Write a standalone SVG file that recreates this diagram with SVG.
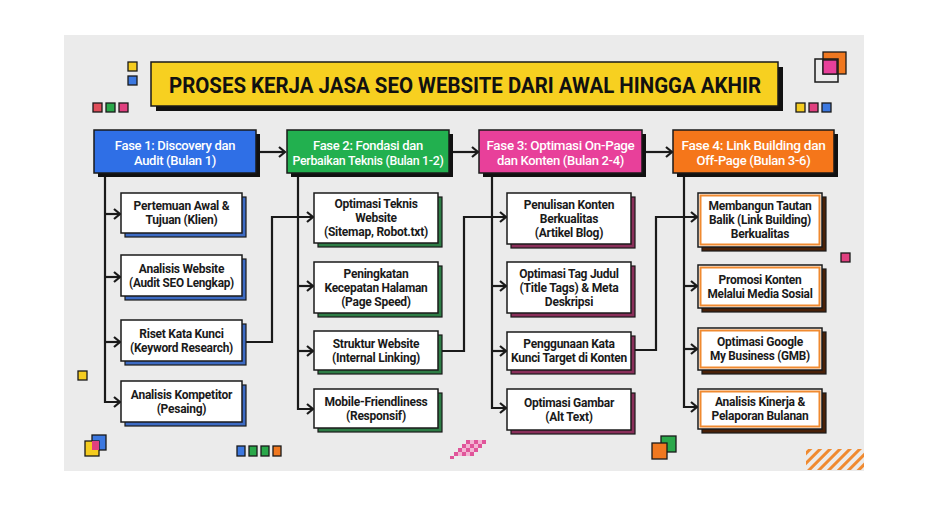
<svg xmlns="http://www.w3.org/2000/svg" width="928" height="506" viewBox="0 0 928 506">
<style>
.bt{font-family:Roboto,"Liberation Sans",sans-serif;font-weight:700;font-size:12px;fill:#1a1a1a;text-anchor:middle;letter-spacing:-0.25px}
.ht{font-family:Roboto,"Liberation Sans",sans-serif;font-weight:500;font-size:13px;fill:#fff;text-anchor:middle;letter-spacing:-0.3px}
.box{fill:#fff;stroke:#1a1a1a;stroke-width:1.5}
.hdr{stroke:#1a1a1a;stroke-width:1.5}
.con{fill:none;stroke:#1a1a1a;stroke-width:2.2}
.sq{stroke:#1a1a1a;stroke-width:1.3}
</style>
<defs>
<marker id="ar" markerWidth="10" markerHeight="12" refX="8" refY="6" orient="auto" markerUnits="userSpaceOnUse">
<path d="M2,1 L8,6 L2,11" fill="none" stroke="#1a1a1a" stroke-width="2.2"/>
</marker>
<pattern id="hatch" width="7" height="7" patternUnits="userSpaceOnUse" patternTransform="rotate(45)">
<rect width="7" height="7" fill="#ebebeb"/>
<rect width="3" height="7" fill="#f08a30"/>
</pattern>
</defs>
<rect width="928" height="506" fill="#fff"/>
<rect x="64" y="35" width="800" height="436" fill="#ebebeb"/>

<!-- decorations -->
<g id="decor">
<rect class="sq" x="128" y="62" width="9" height="9" fill="#f5cc1f"/>
<rect class="sq" x="128" y="76" width="9" height="9" fill="#3c78e0"/>
<rect class="sq" x="93" y="103" width="9" height="9" fill="#e04e5a"/>
<rect class="sq" x="106" y="103" width="9" height="9" fill="#2aa84a"/>
<rect class="sq" x="119" y="103" width="9" height="9" fill="#e0407f"/>
<rect class="sq" x="823" y="52" width="23" height="22" fill="#f07820"/>
<rect class="sq" x="823" y="60" width="14" height="14" fill="#e8409a"/>
<rect x="815" y="59" width="23" height="23" fill="none" stroke="#1a1a1a" stroke-width="1.5"/>
<rect class="sq" x="796" y="103" width="9" height="9" fill="#f5cc1f"/>
<rect class="sq" x="809" y="103" width="9" height="9" fill="#e0407f"/>
<rect class="sq" x="822" y="103" width="9" height="9" fill="#3c78e0"/>
<rect class="sq" x="841" y="253" width="9" height="9" fill="#e0407f"/>
<rect class="sq" x="78" y="371" width="9" height="9" fill="#f5cc1f"/>
<rect class="sq" x="92" y="435" width="14" height="15" fill="#3c78e0"/>
<rect class="sq" x="85" y="441" width="14" height="15" fill="#f5cc1f"/>
<rect x="92" y="441" width="7" height="9" fill="#e0407f"/>
<rect class="sq" x="237" y="446" width="8" height="10" fill="#3c78e0"/>
<rect class="sq" x="249" y="446" width="8" height="10" fill="#2aa84a"/>
<rect class="sq" x="261" y="446" width="8" height="10" fill="#2aa84a"/>
<rect class="sq" x="273" y="446" width="8" height="10" fill="#f07820"/>
<g fill="#e0559a">
<rect x="466" y="440" width="4" height="4"/><rect x="474" y="440" width="4" height="4"/><rect x="482" y="440" width="4" height="4"/>
<rect x="462" y="444" width="4" height="4"/><rect x="470" y="444" width="4" height="4"/><rect x="478" y="444" width="4" height="4"/>
<rect x="458" y="448" width="4" height="4"/><rect x="466" y="448" width="4" height="4"/><rect x="474" y="448" width="4" height="4"/>
<rect x="454" y="452" width="4" height="4"/><rect x="462" y="452" width="4" height="4"/><rect x="470" y="452" width="4" height="4"/>
<rect x="450" y="456" width="4" height="3"/>
</g>
<g fill="#f3b5d3">
<rect x="470" y="440" width="4" height="4"/><rect x="478" y="440" width="4" height="4"/>
<rect x="466" y="444" width="4" height="4"/><rect x="474" y="444" width="4" height="4"/>
<rect x="462" y="448" width="4" height="4"/><rect x="470" y="448" width="4" height="4"/>
<rect x="458" y="452" width="4" height="4"/><rect x="466" y="452" width="4" height="4"/>
</g>
<rect class="sq" x="661" y="436" width="15" height="16" fill="#2aa84a"/>
<rect class="sq" x="652" y="443" width="15" height="16" fill="#f07820"/>
<polygon points="806,470 806,449 864,449 864,470" fill="url(#hatch)"/>
</g>

<!-- title -->
<g id="title">
<rect x="156" y="67" width="627" height="44" fill="#111"/>
<rect x="151" y="62" width="627" height="44" fill="#f7d020" stroke="#1a1a1a" stroke-width="1.5"/>
<text x="465" y="92.5" font-family="Roboto,'Liberation Sans',sans-serif" font-weight="700" font-size="22" fill="#111" text-anchor="middle" textLength="592" lengthAdjust="spacingAndGlyphs">PROSES KERJA JASA SEO WEBSITE DARI AWAL HINGGA AKHIR</text>
</g>

<!-- connectors -->
<g id="connectors">
<path class="con" d="M258,152 H285" marker-end="url(#ar)"/>
<path class="con" d="M451,152 H478" marker-end="url(#ar)"/>
<path class="con" d="M645,152 H672" marker-end="url(#ar)"/>

<path class="con" d="M105,174 V402 H120" marker-end="url(#ar)"/>
<path class="con" d="M105,214 H120" marker-end="url(#ar)"/>
<path class="con" d="M105,277 H120" marker-end="url(#ar)"/>
<path class="con" d="M105,342 H120" marker-end="url(#ar)"/>
<path class="con" d="M242,342 H272 V217 H313" marker-end="url(#ar)"/>

<path class="con" d="M298,174 V409 H313" marker-end="url(#ar)"/>
<path class="con" d="M298,286 H313" marker-end="url(#ar)"/>
<path class="con" d="M298,351 H313" marker-end="url(#ar)"/>
<path class="con" d="M438,351 H464 V217 H506" marker-end="url(#ar)"/>

<path class="con" d="M492,174 V408 H506" marker-end="url(#ar)"/>
<path class="con" d="M492,286 H506" marker-end="url(#ar)"/>
<path class="con" d="M492,351 H506" marker-end="url(#ar)"/>
<path class="con" d="M631,350 H656 V217 H697" marker-end="url(#ar)"/>

<path class="con" d="M684,174 V407 H697" marker-end="url(#ar)"/>
<path class="con" d="M684,286 H697" marker-end="url(#ar)"/>
<path class="con" d="M684,349 H697" marker-end="url(#ar)"/>
</g>

<!-- phase headers -->
<g id="fase1">
<rect x="98" y="134" width="162" height="43" fill="#111"/>
<rect class="hdr" x="94" y="130" width="162" height="43" fill="#2f6fe6"/>
<text class="ht" x="175" y="149.5">Fase 1: Discovery dan</text>
<text class="ht" x="175" y="165">Audit (Bulan 1)</text>
</g>
<g id="fase2">
<rect x="291" y="134" width="162" height="43" fill="#111"/>
<rect class="hdr" x="287" y="130" width="162" height="43" fill="#22b04f"/>
<text class="ht" x="368" y="149.5">Fase 2: Fondasi dan</text>
<text class="ht" x="368" y="165" textLength="151" lengthAdjust="spacingAndGlyphs">Perbaikan Teknis (Bulan 1-2)</text>
</g>
<g id="fase3">
<rect x="483" y="134" width="163" height="43" fill="#111"/>
<rect class="hdr" x="479" y="130" width="163" height="43" fill="#e8409a"/>
<text class="ht" x="560.5" y="149.5" textLength="148" lengthAdjust="spacingAndGlyphs">Fase 3: Optimasi On-Page</text>
<text class="ht" x="560.5" y="165">dan Konten (Bulan 2-4)</text>
</g>
<g id="fase4">
<rect x="677" y="134" width="161" height="43" fill="#111"/>
<rect class="hdr" x="673" y="130" width="161" height="43" fill="#f5761a"/>
<text class="ht" x="753.5" y="149.5" textLength="144" lengthAdjust="spacingAndGlyphs">Fase 4: Link Building dan</text>
<text class="ht" x="753.5" y="165">Off-Page (Bulan 3-6)</text>
</g>

<!-- column 1 -->
<g id="c1b1"><rect x="125" y="197" width="121" height="40" fill="#3d6bc4" stroke="#1a1a1a" stroke-width="1.2"/><rect class="box" x="121" y="193" width="121" height="40"/>
<text class="bt" x="181.5" y="210">Pertemuan Awal &amp;</text><text class="bt" x="181.5" y="224">Tujuan (Klien)</text></g>
<g id="c1b2"><rect x="125" y="259" width="121" height="41" fill="#3d6bc4" stroke="#1a1a1a" stroke-width="1.2"/><rect class="box" x="121" y="255" width="121" height="41"/>
<text class="bt" x="181.5" y="272.5">Analisis Website</text><text class="bt" x="181.5" y="286.5" textLength="105" lengthAdjust="spacingAndGlyphs">(Audit SEO Lengkap)</text></g>
<g id="c1b3"><rect x="125" y="324" width="121" height="41" fill="#3d6bc4" stroke="#1a1a1a" stroke-width="1.2"/><rect class="box" x="121" y="320" width="121" height="41"/>
<text class="bt" x="181.5" y="337.5">Riset Kata Kunci</text><text class="bt" x="181.5" y="351.5" textLength="103" lengthAdjust="spacingAndGlyphs">(Keyword Research)</text></g>
<g id="c1b4"><rect x="125" y="385" width="121" height="41" fill="#3d6bc4" stroke="#1a1a1a" stroke-width="1.2"/><rect class="box" x="121" y="381" width="121" height="41"/>
<text class="bt" x="181.5" y="398.5">Analisis Kompetitor</text><text class="bt" x="181.5" y="412.5">(Pesaing)</text></g>

<!-- column 2 -->
<g id="c2b1"><rect x="318" y="197" width="124" height="50" fill="#2e7d46" stroke="#1a1a1a" stroke-width="1.2"/><rect class="box" x="314" y="193" width="124" height="50"/>
<text class="bt" x="376" y="208">Optimasi Teknis</text><text class="bt" x="376" y="222">Website</text><text class="bt" x="376" y="236" textLength="104" lengthAdjust="spacingAndGlyphs">(Sitemap, Robot.txt)</text></g>
<g id="c2b2"><rect x="318" y="266" width="124" height="51" fill="#2e7d46" stroke="#1a1a1a" stroke-width="1.2"/><rect class="box" x="314" y="262" width="124" height="51"/>
<text class="bt" x="376" y="277.5">Peningkatan</text><text class="bt" x="376" y="291.5" textLength="103" lengthAdjust="spacingAndGlyphs">Kecepatan Halaman</text><text class="bt" x="376" y="305.5">(Page Speed)</text></g>
<g id="c2b3"><rect x="318" y="335" width="124" height="39" fill="#2e7d46" stroke="#1a1a1a" stroke-width="1.2"/><rect class="box" x="314" y="331" width="124" height="39"/>
<text class="bt" x="376" y="347.5">Struktur Website</text><text class="bt" x="376" y="361.5">(Internal Linking)</text></g>
<g id="c2b4"><rect x="318" y="393" width="124" height="39" fill="#2e7d46" stroke="#1a1a1a" stroke-width="1.2"/><rect class="box" x="314" y="389" width="124" height="39"/>
<text class="bt" x="376" y="405.5" textLength="103" lengthAdjust="spacingAndGlyphs">Mobile-Friendliness</text><text class="bt" x="376" y="419.5">(Responsif)</text></g>

<!-- column 3 -->
<g id="c3b1"><rect x="511" y="197" width="124" height="51" fill="#8a2f5a" stroke="#1a1a1a" stroke-width="1.2"/><rect class="box" x="507" y="193" width="124" height="51"/>
<text class="bt" x="569" y="208.5">Penulisan Konten</text><text class="bt" x="569" y="222.5">Berkualitas</text><text class="bt" x="569" y="236.5">(Artikel Blog)</text></g>
<g id="c3b2"><rect x="511" y="266" width="124" height="51" fill="#8a2f5a" stroke="#1a1a1a" stroke-width="1.2"/><rect class="box" x="507" y="262" width="124" height="51"/>
<text class="bt" x="569" y="277.5">Optimasi Tag Judul</text><text class="bt" x="569" y="291.5" textLength="99" lengthAdjust="spacingAndGlyphs">(Title Tags) &amp; Meta</text><text class="bt" x="569" y="305.5">Deskripsi</text></g>
<g id="c3b3"><rect x="511" y="336" width="124" height="38" fill="#8a2f5a" stroke="#1a1a1a" stroke-width="1.2"/><rect class="box" x="507" y="332" width="124" height="38"/>
<text class="bt" x="569" y="348">Penggunaan Kata</text><text class="bt" x="569" y="362" textLength="116" lengthAdjust="spacingAndGlyphs">Kunci Target di Konten</text></g>
<g id="c3b4"><rect x="511" y="393" width="124" height="41" fill="#8a2f5a" stroke="#1a1a1a" stroke-width="1.2"/><rect class="box" x="507" y="389" width="124" height="41"/>
<text class="bt" x="569" y="406.5">Optimasi Gambar</text><text class="bt" x="569" y="420.5">(Alt Text)</text></g>

<!-- column 4 -->
<g id="c4b1"><rect x="702" y="197" width="124" height="54" fill="#4a2108" stroke="#1a1a1a" stroke-width="1.2"/><rect class="box" x="698" y="193" width="124" height="54"/><rect x="700.5" y="195.5" width="119" height="49" fill="none" stroke="#f08a30" stroke-width="2"/>
<text class="bt" x="760" y="210">Membangun Tautan</text><text class="bt" x="760" y="224" textLength="102" lengthAdjust="spacingAndGlyphs">Balik (Link Building)</text><text class="bt" x="760" y="238">Berkualitas</text></g>
<g id="c4b2"><rect x="702" y="269" width="124" height="43" fill="#4a2108" stroke="#1a1a1a" stroke-width="1.2"/><rect class="box" x="698" y="265" width="124" height="43"/><rect x="700.5" y="267.5" width="119" height="38" fill="none" stroke="#f08a30" stroke-width="2"/>
<text class="bt" x="760" y="283.5">Promosi Konten</text><text class="bt" x="760" y="297.5" textLength="105" lengthAdjust="spacingAndGlyphs">Melalui Media Sosial</text></g>
<g id="c4b3"><rect x="702" y="332" width="124" height="42" fill="#4a2108" stroke="#1a1a1a" stroke-width="1.2"/><rect class="box" x="698" y="328" width="124" height="42"/><rect x="700.5" y="330.5" width="119" height="37" fill="none" stroke="#f08a30" stroke-width="2"/>
<text class="bt" x="760" y="346">Optimasi Google</text><text class="bt" x="760" y="360" textLength="100" lengthAdjust="spacingAndGlyphs">My Business (GMB)</text></g>
<g id="c4b4"><rect x="702" y="393" width="124" height="40" fill="#4a2108" stroke="#1a1a1a" stroke-width="1.2"/><rect class="box" x="698" y="389" width="124" height="40"/><rect x="700.5" y="391.5" width="119" height="35" fill="none" stroke="#f08a30" stroke-width="2"/>
<text class="bt" x="760" y="406">Analisis Kinerja &amp;</text><text class="bt" x="760" y="420" textLength="97" lengthAdjust="spacingAndGlyphs">Pelaporan Bulanan</text></g>
</svg>
